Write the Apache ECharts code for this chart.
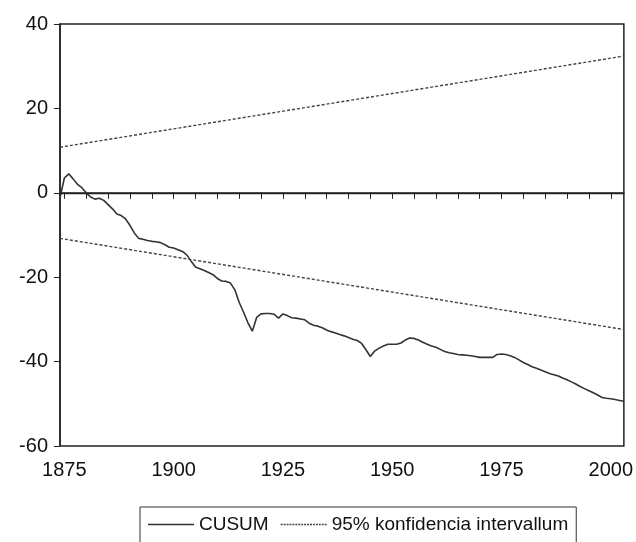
<!DOCTYPE html>
<html>
<head>
<meta charset="utf-8">
<script src="https://cdn.jsdelivr.net/npm/echarts@6/dist/echarts.min.js"></script>
<style>
html,body{margin:0;padding:0;background:#fff;}
#chart{width:636px;height:542px;}
</style>
</head>
<body>
<div id="chart"></div>
<script>
// CUSUM values, one per year starting at startYear
var startYear = 1874;
var cusum = [
  -1.2, 3.5, 4.5, 3.3, 2.0, 1.2, 0.0, -1.0, -1.5, -1.3,
  -1.8, -2.8, -3.8, -5.0, -5.4, -6.2, -7.7, -9.5, -10.8, -11.0,
  -11.3, -11.5, -11.6, -11.8, -12.3, -12.9, -13.1, -13.5, -13.9, -14.7,
  -16.2, -17.6, -18.0, -18.4, -18.9, -19.4, -20.3, -20.9, -21.0, -21.4,
  -23.0, -26.0, -28.3, -30.8, -32.8, -29.5, -28.7, -28.6, -28.6, -28.8,
  -29.7, -28.7, -29.1, -29.6, -29.7, -29.9, -30.1, -30.9, -31.4, -31.6,
  -32.0, -32.5, -32.9, -33.2, -33.6, -33.9, -34.3, -34.7, -35.0, -35.7,
  -37.2, -38.8, -37.5, -36.8, -36.3, -35.9, -35.9, -35.9, -35.6, -34.9,
  -34.4, -34.5, -34.9, -35.4, -35.9, -36.3, -36.6, -37.1, -37.6, -37.9,
  -38.1, -38.3, -38.4, -38.5, -38.6, -38.8, -39.0, -39.0, -39.0, -39.0,
  -38.3, -38.2, -38.3, -38.6, -39.0, -39.6, -40.2, -40.7, -41.2, -41.6,
  -42.0, -42.4, -42.8, -43.1, -43.4, -43.9, -44.3, -44.8, -45.3, -45.9,
  -46.4, -46.9, -47.4, -47.9, -48.5, -48.7, -48.8, -49.0, -49.2, -49.4
];
// 95% confidence band end points
var bandYears = [1874, 2003];
var upperBand = [10.8, 32.4];
var lowerBand = [-10.8, -32.4];
// axis ticks / labels
var xLabelValues = [1875, 1900, 1925, 1950, 1975, 2000];
var xTickValues = [1875,1880,1885,1890,1895,1900,1905,1910,1915,1920,1925,1930,1935,1940,1945,1950,1955,1960,1965,1970,1975,1980,1985,1990,1995,2000];
var yMin = -60, yMax = 40, yStep = 20;

var cusumData = cusum.map(function (v, i) { return [startYear + i, v]; });
var upperData = bandYears.map(function (y, i) { return [y, upperBand[i]]; });
var lowerData = bandYears.map(function (y, i) { return [y, lowerBand[i]]; });

var FONT = 'Liberation Sans, Arial, sans-serif';
var solidIcon = 'path://M0,0h46v1.6h-46z';
var dotParts = [];
for (var k = 0; k < 46; k += 3) { dotParts.push('M' + k + ',0h2v1.4h-2z'); }
var dottedIcon = 'path://' + dotParts.join(' ');

var chart = echarts.init(document.getElementById('chart'), null, {renderer: 'canvas'});
chart.setOption({
  animation: false,
  backgroundColor: '#fff',
  grid: {left: 60, right: 11, top: 24, bottom: 96, show: true, borderColor: '#222', borderWidth: 1.5, containLabel: false},
  legend: {
    left: 140, top: 507,
    padding: [8, 8, 9, 8],
    borderColor: '#333', borderWidth: 1,
    itemWidth: 46, itemHeight: 2, itemGap: 12,
    textStyle: {fontFamily: FONT, fontSize: 19, color: '#111'},
    data: [
      {name: 'CUSUM', icon: solidIcon, itemStyle: {color: '#333'}},
      {name: '95% konfidencia intervallum', icon: dottedIcon, itemStyle: {color: '#444'}}
    ]
  },
  xAxis: {
    type: 'value', min: 1874, max: 2003,
    splitLine: {show: false},
    axisLine: {show: true, lineStyle: {color: '#222', width: 1.5}},
    axisTick: {show: true, inside: false, length: 6, customValues: xTickValues, lineStyle: {color: '#222', width: 1}},
    axisLabel: {customValues: xLabelValues, formatter: function (v) { return String(v); }, fontFamily: FONT, fontSize: 20, color: '#111', margin: 14}
  },
  yAxis: {
    type: 'value', min: yMin, max: yMax, interval: yStep,
    splitLine: {show: false},
    axisLine: {show: true, lineStyle: {color: '#222', width: 1.5}},
    axisTick: {show: true, inside: false, length: 6, lineStyle: {color: '#222', width: 1}},
    axisLabel: {fontFamily: FONT, fontSize: 20, color: '#111', margin: 12}
  },
  series: [
    {
      name: 'CUSUM', type: 'line', data: cusumData, symbol: 'none', smooth: false,
      lineStyle: {color: '#333', width: 1.6, type: 'solid'},
      itemStyle: {color: '#333'},
      markLine: {
        silent: true, symbol: 'none', label: {show: false},
        lineStyle: {color: '#222', width: 1.3, type: 'solid'},
        data: [{yAxis: 0}]
      },
      z: 3
    },
    {
      name: '95% konfidencia intervallum', type: 'line', data: upperData, symbol: 'none',
      lineStyle: {color: '#444', width: 1.4, type: [3, 2]},
      itemStyle: {color: '#444'}
    },
    {
      name: '95% konfidencia intervallum', type: 'line', data: lowerData, symbol: 'none',
      lineStyle: {color: '#444', width: 1.4, type: [3, 2]},
      itemStyle: {color: '#444'}
    }
  ]
});
</script>
</body>
</html>
